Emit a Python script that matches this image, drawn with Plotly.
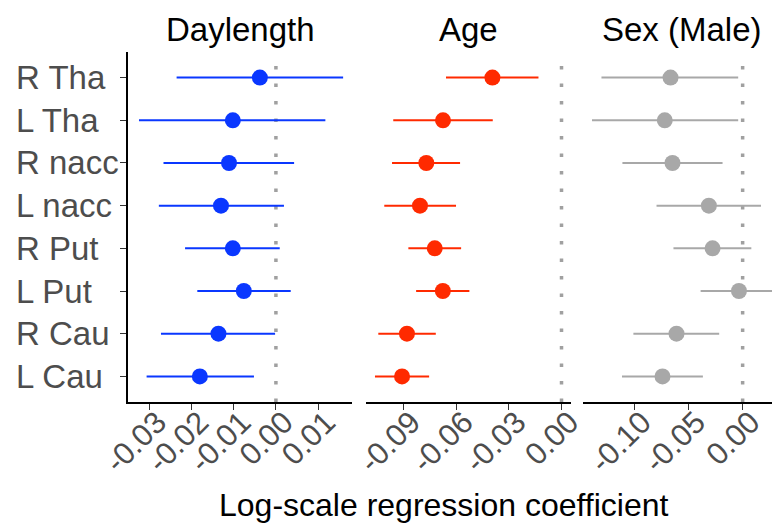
import plotly.graph_objects as go

regions = ["R Tha", "L Tha", "R nacc", "L nacc", "R Put", "L Put", "R Cau", "L Cau"]

day_est = [-0.0038, -0.0102, -0.0111, -0.0130, -0.0102, -0.0076, -0.0136, -0.0180]
day_lo  = [-0.0235, -0.0324, -0.0266, -0.0277, -0.0215, -0.0186, -0.0272, -0.0306]
day_hi  = [0.0159, 0.0117, 0.0043, 0.0019, 0.0009, 0.0035, -0.0002, -0.0052]

age_est = [-0.0393, -0.0674, -0.0769, -0.0805, -0.0721, -0.0675, -0.0879, -0.0907]
age_lo  = [-0.0657, -0.0957, -0.0964, -0.1008, -0.0871, -0.0827, -0.1042, -0.1061]
age_hi  = [-0.0131, -0.0391, -0.0577, -0.0600, -0.0571, -0.0524, -0.0715, -0.0753]

sex_est = [-0.0664, -0.0717, -0.0646, -0.0311, -0.0277, -0.0034, -0.0609, -0.0738]
sex_lo  = [-0.1300, -0.1387, -0.1107, -0.0793, -0.0637, -0.0387, -0.1006, -0.1111]
sex_hi  = [-0.0041, -0.0041, -0.0185, 0.0169, 0.0080, 0.0323, -0.0216, -0.0366]

panels = ["Daylength", "Age", "Sex (Male)"]
day_ticks = [-0.03, -0.02, -0.01, 0.00, 0.01]
age_ticks = [-0.09, -0.06, -0.03, 0.00]
sex_ticks = [-0.10, -0.05, 0.00]

# page has an 8px body margin, so lay out in a 772x524 figure
OFF = 8
W, H = 780 - OFF, 532 - OFF
TOP, BOT = 52 - OFF, 402 - OFF
FONT = "Liberation Sans, Arial, sans-serif"
FS_TICK = 31
FS_LAB = 33
colors = ["#0A37FF", "#FF2A00", "#A8A8A8"]

series = [
    (day_est, day_lo, day_hi, day_ticks, "x", [-0.0350, 0.0180]),
    (age_est, age_lo, age_hi, age_ticks, "x2", [-0.1112, 0.0054]),
    (sex_est, sex_lo, sex_hi, sex_ticks, "x3", [-0.1470, 0.0344]),
]
px_dom = [(128, 352), (366, 571), (583, 780)]
domains = [[(a - OFF) / W, min(1.0, (b - OFF) / W)] for a, b in px_dom]

fig = go.Figure()
for i, (est, lo, hi, ticks, xa, rng) in enumerate(series):
    fig.add_trace(go.Scatter(
        x=est, y=regions, xaxis=xa, yaxis="y", mode="markers",
        marker=dict(color=colors[i], size=16, line=dict(width=0)),
        error_x=dict(type="data", symmetric=False,
                     array=[h - e for h, e in zip(hi, est)],
                     arrayminus=[e - l for e, l in zip(est, lo)],
                     color=colors[i], thickness=2, width=0),
        showlegend=False, hoverinfo="skip",
    ))
    fig.add_shape(type="line", xref=xa, yref="paper", x0=0, x1=0, y0=0, y1=1,
                  line=dict(color="#A0A0A0", width=3.5, dash="3.5px,14px"), layer="below")

layout = dict(
    width=W, height=H,
    margin=dict(l=0, r=0, t=TOP, b=H - BOT),
    plot_bgcolor="white", paper_bgcolor="white",
    font=dict(family=FONT, size=FS_TICK, color="#4D4D4D"),
    yaxis=dict(type="category", categoryorder="array", categoryarray=regions,
               range=[7.6, -0.6], showgrid=False, zeroline=False,
               showline=True, linecolor="black", linewidth=1.5,
               ticks="outside", ticklen=6, tickwidth=1.3, tickcolor="#333333",
               showticklabels=False, anchor="x", automargin=False),
)
axnames = ["xaxis", "xaxis2", "xaxis3"]
for i, (est, lo, hi, ticks, xa, rng) in enumerate(series):
    layout[axnames[i]] = dict(
        domain=domains[i], range=rng, showgrid=False, zeroline=False,
        showline=True, linecolor="black", linewidth=1.5,
        ticks="outside", ticklen=6, tickwidth=1.3, tickcolor="#333333",
        tickmode="array", tickvals=ticks, ticktext=["%.2f" % t for t in ticks],
        tickangle=-45, tickfont=dict(size=FS_TICK, color="#4D4D4D", family=FONT),
        ticklabelstandoff=-18, ticklabelshift=8, anchor="y", automargin=False,
    )
fig.update_layout(**layout)

# left-aligned row labels (as in the reference)
for r in regions:
    fig.add_annotation(text=r, x=(14 - OFF) / W, xref="paper", y=r, yref="y",
                       showarrow=False, xanchor="left", yanchor="middle",
                       font=dict(size=FS_LAB, color="#4D4D4D", family=FONT))

ph = BOT - TOP
centers = [((a + min(b, 780)) / 2 - OFF) / W for a, b in px_dom]
for name, cx in zip(panels, centers):
    fig.add_annotation(text=name, x=cx, xref="paper",
                       y=1 + (TOP - (30 - OFF)) / ph, yref="paper",
                       showarrow=False, font=dict(size=FS_LAB, color="black", family=FONT),
                       xanchor="center", yanchor="middle")

fig.add_annotation(text="Log-scale regression coefficient", x=(444 - OFF) / W, xref="paper",
                   y=-((505 - OFF) - BOT) / ph, yref="paper", showarrow=False,
                   font=dict(size=32, color="black", family=FONT),
                   xanchor="center", yanchor="middle")

fig.write_html("out.html")
